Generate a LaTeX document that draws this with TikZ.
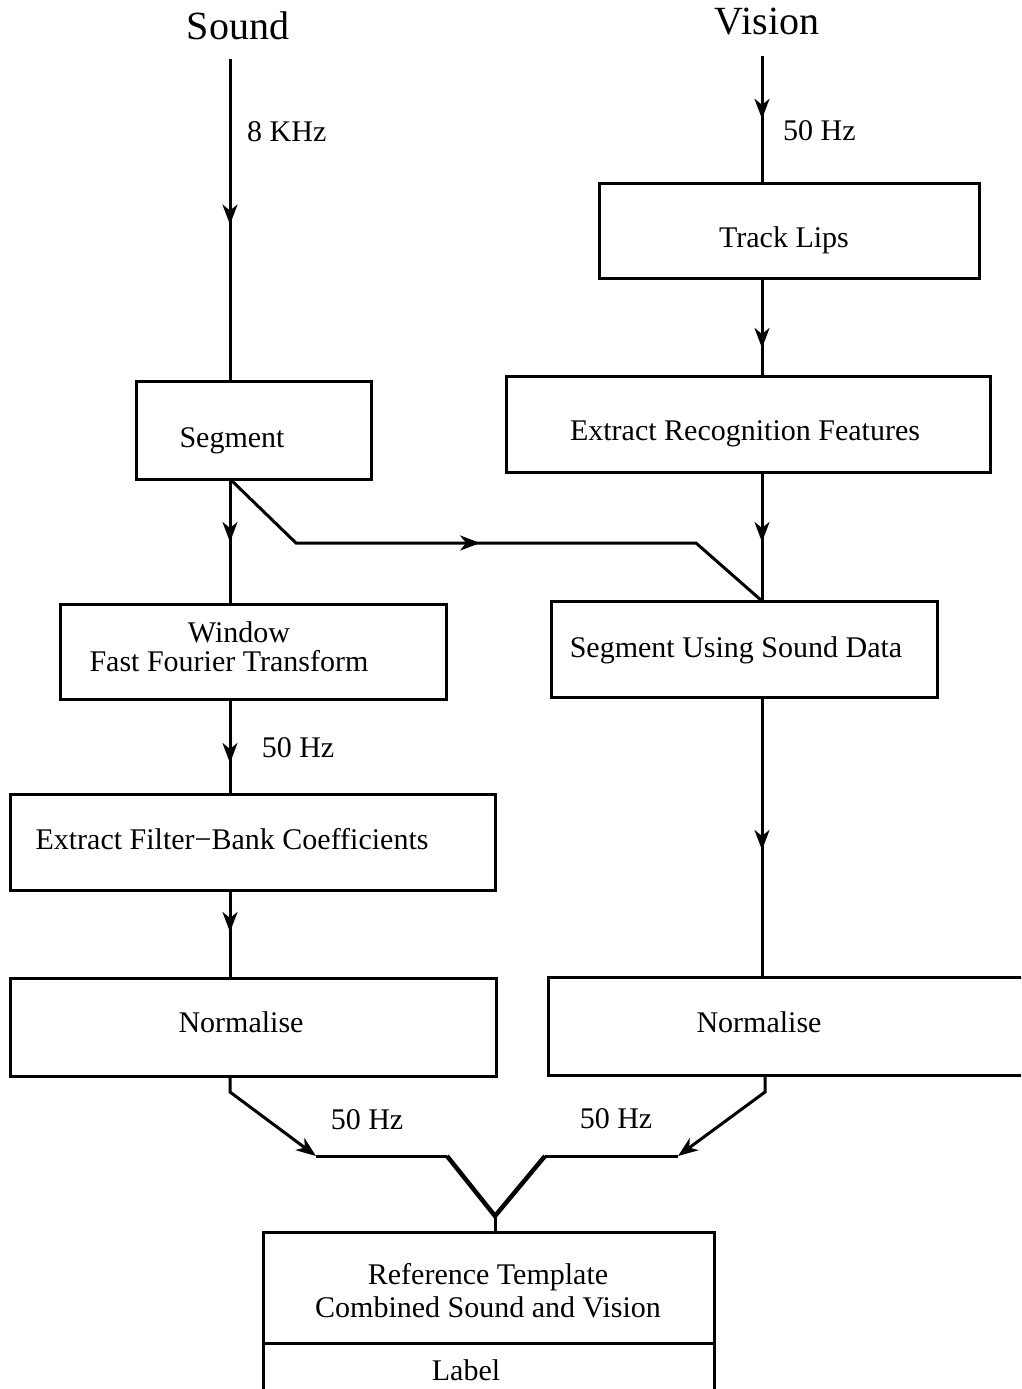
\documentclass[tikz,border=0pt]{standalone}
\usepackage{fontspec}
\setmainfont{Liberation Serif}
\usetikzlibrary{arrows.meta,decorations.markings}
\tikzset{
  box/.style={draw, line width=3pt, inner sep=0pt, outer sep=0pt},
  txt/.style={anchor=base, inner sep=0pt, font=\fontsize{30}{33}\selectfont},
  head/.style={anchor=base, inner sep=0pt, font=\fontsize{40}{44}\selectfont},
  wire/.style={line width=3pt},
  vwire/.style={line width=4.5pt},
  tipat/.style={postaction={decorate}, decoration={markings,
      mark=at position #1 with {\arrow{Stealth[length=20pt,width=15pt,inset=6pt]}}}},
  endtip/.style={-{Stealth[length=20pt,width=15pt,inset=6pt]}}
}
\begin{document}
\begin{tikzpicture}[x=1pt,y=-1pt]
\useasboundingbox (0,0) rectangle (1021,1389);
\clip (0,0) rectangle (1021,1389);

% column axes
\coordinate (colL) at (230,0);
\coordinate (colR) at (762,0);

% headings
\node[head] (snd) at (238,40) {Sound};
\node[head] (vis) at (767,35) {Vision};

% boxes
\node[box, minimum width=380, minimum height=95] (lips) at (789,230.5) {};
\node[box, minimum width=484, minimum height=96] (erf) at (748,424) {};
\node[box, minimum width=235, minimum height=98] (seg) at (253.5,430) {};
\node[box, minimum width=386, minimum height=95] (win) at (253,651.5) {};
\node[box, minimum width=386, minimum height=96] (susd) at (744,649) {};
\node[box, minimum width=485, minimum height=96] (efbc) at (252.5,842) {};
\node[box, minimum width=486, minimum height=98] (nl) at (253,1027) {};
\node[box, minimum width=492, minimum height=98] (nr) at (794,1026) {};
\node[box, minimum width=451, minimum height=188] (ref) at (488.5,1326) {};
\coordinate (div) at (0,1343);
\draw[wire] (ref.west |- div) -- (ref.east |- div);

% box texts
\node[txt] at (784,247) {Track Lips};
\node[txt] at (745,440) {Extract Recognition Features};
\node[txt] at (232,447) {Segment};
\node[txt] at (239,642) {Window};
\node[txt] at (229,671) {Fast Fourier Transform};
\node[txt] at (736,657) {Segment Using Sound Data};
\node[txt] at (232,849) {Extract Filter\char"2212 Bank Coefficients};
\node[txt] at (241,1032) {Normalise};
\node[txt] at (759,1032) {Normalise};
\node[txt] at (488,1284) {Reference Template};
\node[txt] at (488,1317) {Combined Sound and Vision};
\node[txt] at (466,1380) {Label};

% rate labels
\node[txt, anchor=base west] at (247,141) {8 KHz};
\node[txt, anchor=base west] at (783,140) {50 Hz};
\node[txt] at (298,757) {50 Hz};
\node[txt] at (367,1129) {50 Hz};
\node[txt] at (616,1128) {50 Hz};

% sound branch
\draw[wire, tipat=166pt] ([yshift=-18pt]snd.south -| colL) -- (seg.north -| colL);
\draw[wire, tipat=63pt] (seg.south -| colL) -- (win.north -| colL);
\draw[wire, tipat=64pt] (win.south -| colL) -- (efbc.north -| colL);
\draw[wire, tipat=42pt] (efbc.south -| colL) -- (nl.north -| colL);

% vision branch
\draw[wire, tipat=63pt] ([yshift=-20pt]vis.south -| colR) -- (lips.north -| colR);
\draw[wire, tipat=70pt] (lips.south -| colR) -- (erf.north -| colR);
\draw[wire, tipat=70pt] (erf.south -| colR) -- (susd.north -| colR);
\draw[wire, tipat=153pt] (susd.south -| colR) -- (nr.north -| colR);

% segmentation passed from sound to vision
\coordinate (k1) at (296,543);
\coordinate (k2) at (696,543);
\draw[wire, line join=miter, tipat=276pt] (seg.south -| colL) -- (k1) -- (k2) -- (susd.north -| colR);

% merging both streams
\coordinate (lk) at (230,1092);
\coordinate (la) at (316,1156);
\coordinate (lh) at (447,1156);
\coordinate (vb) at (495,1216);
\coordinate (rh) at (545,1156);
\coordinate (ra) at (678,1156);
\coordinate (rk) at (765,1092);
\draw[wire, endtip] (nl.south -| lk) -- (lk) -- (la);
\draw[wire, endtip] (nr.south -| rk) -- (rk) -- (ra);
\draw[wire] (la) -- (lh);
\draw[wire] (rh) -- (ra);
\draw[vwire, line join=miter] (lh) -- (vb) -- (rh);
\draw[wire] (vb) -- (ref.north -| vb);
\end{tikzpicture}
\end{document}
